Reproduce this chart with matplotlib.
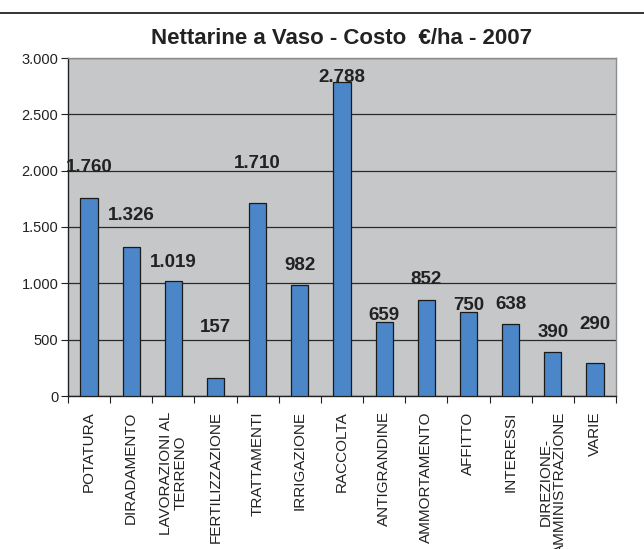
import numpy as np
import matplotlib.pyplot as plt
from matplotlib.lines import Line2D
from matplotlib.ticker import FuncFormatter

plt.rcParams['font.family'] = ['Liberation Sans', 'DejaVu Sans']

# Data
categories = ['POTATURA', 'DIRADAMENTO', 'LAVORAZIONI AL\nTERRENO', 'FERTILIZZAZIONE',
              'TRATTAMENTI', 'IRRIGAZIONE', 'RACCOLTA', 'ANTIGRANDINE',
              'AMMORTAMENTO', 'AFFITTO', 'INTERESSI', 'DIREZIONE-\nAMMINISTRAZIONE', 'VARIE']
costs = [1760, 1326, 1019, 157, 1710, 982, 2788, 659, 852, 750, 638, 390, 290]

# vertical lift of each value label above its bar (pixels), as placed in the original
label_lift = [30, 31, 19, 51, 40, 20, 4, 6, 21, 6, 20, 20, 39]


def itfmt(v):
    return '{:,.0f}'.format(v).replace(',', '.')


fig = plt.figure(figsize=(6.44, 5.49), dpi=100)
ax = fig.add_axes([68 / 644, 1 - 396 / 549, 548 / 644, 338 / 549])

x = np.arange(len(categories))
ax.set_facecolor('#c6c7c9')
ax.bar(x, costs, width=0.41, color='#4a86c8', edgecolor='#1a1a1a', linewidth=0.9, zorder=3)

ax.set_xlim(-0.5, len(categories) - 0.5)
ax.set_ylim(0, 3000)
ax.set_yticks(np.arange(0, 3001, 500))
ax.yaxis.set_major_formatter(FuncFormatter(lambda v, p: itfmt(v)))
ax.grid(axis='y', color='#2a2a2a', linewidth=0.9, zorder=1)

# category boundaries as ticks, names in the middle
ax.set_xticks(np.arange(-0.5, len(categories), 1.0))
ax.set_xticklabels([])
ax.set_xticks(x, minor=True)
ax.set_xticklabels(categories, minor=True, rotation=90, ha='center', va='top',
                   fontsize=11, multialignment='center', linespacing=1.0)
ax.tick_params(axis='x', which='minor', length=0, pad=11)
ax.tick_params(axis='x', which='major', length=5, direction='out', color='#222222')
ax.tick_params(axis='y', length=5, direction='out', labelsize=10.5, color='#222222', pad=2)
for lbl in ax.get_xticklabels(minor=True) + ax.get_yticklabels():
    lbl.set_color('#222222')

for side in ['left', 'bottom']:
    ax.spines[side].set_color('#222222')
    ax.spines[side].set_linewidth(1.0)
for side in ['top', 'right']:
    ax.spines[side].set_color('#8c8c8c')
    ax.spines[side].set_linewidth(1.0)

for xi, v, lift in zip(x, costs, label_lift):
    ax.annotate(itfmt(v), (xi, v), xytext=(0, lift * 0.72), textcoords='offset points',
                ha='center', va='center', fontsize=13.5, fontweight='bold', color='#222222',
                zorder=4)

ax.set_title('Nettarine a Vaso - Costo  €/ha - 2007', fontsize=16, fontweight='bold',
             color='#222222', pad=10)

# rule across the top of the page
fig.add_artist(Line2D([0, 1], [1 - 13 / 549, 1 - 13 / 549], color='#222222', linewidth=1.3))

fig.savefig('out.png', dpi=100)
